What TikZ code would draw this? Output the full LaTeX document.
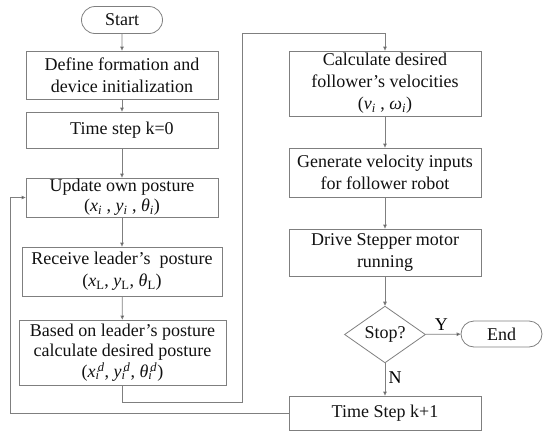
\documentclass[tikz,border=0pt]{standalone}
\usepackage{fontspec}
\setmainfont{Liberation Serif}
\usepackage{tikz}
\usetikzlibrary{calc,arrows.meta}
\usetikzlibrary{shapes.misc,shapes.geometric}
\definecolor{fc-line}{HTML}{7F7F7F}
\definecolor{fc-text}{HTML}{111111}
\newcommand{\fsub}[2]{\textit{#1}\textsubscript{\textit{#2}}}
\newcommand{\fsupsub}[3]{\textit{#1}\rlap{\textsubscript{\textit{#2}}}\textsuperscript{\,\textit{#3}}}
\tikzset{
    procbox/.style={draw=fc-line, line width=0.8pt, rectangle, align=center, inner sep=1pt, text=fc-text},
    termbox/.style={draw=fc-line, line width=0.8pt, rounded rectangle, inner sep=1pt, text=fc-text},
    decbox/.style={draw=fc-line, line width=0.8pt, diamond, inner sep=0pt, text=fc-text},
    flow/.style={draw=fc-line, line width=0.8pt, -{Triangle[length=4pt,width=3.5pt,fill=fc-text]}},
    flowline/.style={draw=fc-line, line width=0.8pt}
}

\begin{document}
\begin{tikzpicture}[x=1pt, y=-1pt, font=\fontsize{18}{22}\selectfont]
    \useasboundingbox (0,0) rectangle (550,437);
    % left column
    \node[termbox, minimum width=83pt, minimum height=27pt] (start) at (122,20) {Start};
    \node[procbox, minimum width=192pt, minimum height=48pt] (define) at (122,75) {Define formation and\\device initialization};
    \node[procbox, minimum width=192pt, minimum height=36pt] (step0) at (122,130) {Time step k=0};
    \node[procbox, minimum width=192pt, minimum height=39pt] (update) at (122,197.5) {Update own posture\\[-2pt](\fsub{x}{i} , \fsub{y}{i} , \fsub{θ}{i})};
    \node[procbox, minimum width=200pt, minimum height=49pt] (receive) at (122,271.5) {Receive leader’s\ \ posture\\(\fsub{x}{\upshape L}, \fsub{y}{\upshape L}, \fsub{θ}{\upshape L})};
    \node[procbox, minimum width=207pt, minimum height=65pt, font=\fontsize{18}{20.5}\selectfont] (based) at (122.5,352.5) {Based on leader’s posture\\calculate desired posture\\(\fsupsub{x}{i}{d}, \fsupsub{y}{i}{d}, \fsupsub{θ}{i}{d})};
    % right column
    \node[procbox, minimum width=192pt, minimum height=65pt] (calc) at (385,83.5) {Calculate desired\\follower’s velocities\\(\fsub{v}{i} , \fsub{ω}{i})};
    \node[procbox, minimum width=192pt, minimum height=49pt] (gen) at (385,172.5) {Generate velocity inputs\\for follower robot};
    \node[procbox, minimum width=192pt, minimum height=47pt] (drive) at (385,252.5) {Drive Stepper motor\\running};
    \node[decbox, minimum width=81pt, minimum height=47pt] (stop) at (385,334.5) {Stop?};
    \node[termbox, minimum width=83pt, minimum height=26pt] (end) at (501.5,334) {End};
    \node[procbox, minimum width=192pt, minimum height=34pt] (step1) at (385,413) {Time Step k+1};
    % connectors
    \draw[flow] (start) -- (define);
    \draw[flow] (define) -- (step0);
    \draw[flow] (step0) -- (update);
    \draw[flow] (update) -- (receive);
    \draw[flow] (receive) -- (based);
    \draw[flow] (calc) -- (gen);
    \draw[flow] (gen) -- (drive);
    \draw[flow] (drive) -- (stop);
    \draw[flow] (stop) -- node[above, pos=0.45] {Y} (end);
    \draw[flow] (stop) -- node[right, pos=0.45] {N} (step1);
    % loops
    \coordinate (lowturn) at (242,402);
    \coordinate (highturn) at (242,33);
    \coordinate (backturn) at (10,413);
    \draw[flow] (based.south) |- (lowturn) -- (highturn) -| (calc.north);
    \draw[flow] (step1.west) -- (backturn) |- (update.west);
\end{tikzpicture}
\end{document}
